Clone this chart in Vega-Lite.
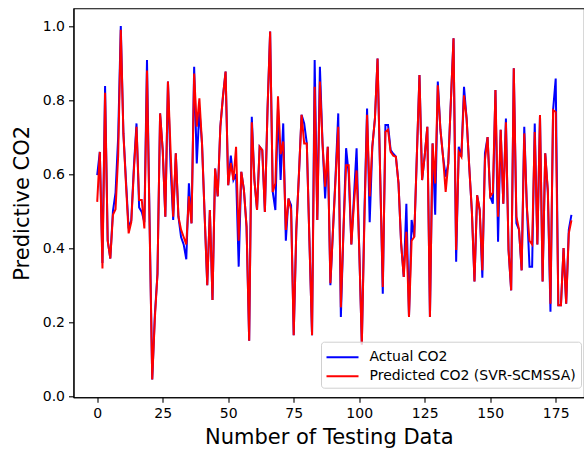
{
  "$schema": "https://vega.github.io/schema/vega-lite/v6.json",
  "autosize": {"type": "none"},
  "padding": {"left": 73.5, "top": 8.3, "right": 0, "bottom": 52.7},
  "width": 510.5,
  "height": 389,
  "background": "white",
  "config": {
    "font": "DejaVu Sans",
    "view": {"stroke": "#000", "strokeWidth": 1.1},
    "axis": {"grid": false, "domainColor": "#000", "domainWidth": 1.1, "tickColor": "#000", "tickWidth": 1.1, "tickSize": 5, "labelPadding": 4, "labelFontSize": 14, "labelColor": "#000", "labelFont": "DejaVu Sans", "titleFont": "DejaVu Sans", "titleFontSize": 21, "titleFontWeight": "normal", "titleColor": "#000"}
  },
  "data": {"values": [
    {"i":0,"a":0.597,"p":0.525},{"i":1,"a":0.66,"p":0.66},{"i":2,"a":0.36,"p":0.345},{"i":3,"a":0.838,"p":0.82},{"i":4,"a":0.42,"p":0.42},
    {"i":5,"a":0.372,"p":0.372},{"i":6,"a":0.5,"p":0.49},{"i":7,"a":0.55,"p":0.505},{"i":8,"a":0.7,"p":0.65},{"i":9,"a":1.0,"p":0.99},
    {"i":10,"a":0.71,"p":0.71},{"i":11,"a":0.58,"p":0.57},{"i":12,"a":0.453,"p":0.44},{"i":13,"a":0.475,"p":0.47},{"i":14,"a":0.62,"p":0.61},
    {"i":15,"a":0.737,"p":0.728},{"i":16,"a":0.51,"p":0.53},{"i":17,"a":0.498,"p":0.53},{"i":18,"a":0.47,"p":0.453},{"i":19,"a":0.908,"p":0.88},
    {"i":20,"a":0.47,"p":0.46},{"i":21,"a":0.045,"p":0.045},{"i":22,"a":0.22,"p":0.21},{"i":23,"a":0.33,"p":0.33},{"i":24,"a":0.764,"p":0.764},
    {"i":25,"a":0.665,"p":0.665},{"i":26,"a":0.485,"p":0.485},{"i":27,"a":0.85,"p":0.85},{"i":28,"a":0.62,"p":0.665},{"i":29,"a":0.476,"p":0.485},
    {"i":30,"a":0.656,"p":0.656},{"i":31,"a":0.485,"p":0.485},{"i":32,"a":0.43,"p":0.45},{"i":33,"a":0.41,"p":0.43},{"i":34,"a":0.37,"p":0.41},
    {"i":35,"a":0.575,"p":0.54},{"i":36,"a":0.467,"p":0.467},{"i":37,"a":0.89,"p":0.872},{"i":38,"a":0.629,"p":0.728},{"i":39,"a":0.773,"p":0.805},
    {"i":40,"a":0.683,"p":0.683},{"i":41,"a":0.49,"p":0.49},{"i":42,"a":0.3,"p":0.3},{"i":43,"a":0.503,"p":0.503},{"i":44,"a":0.26,"p":0.26},
    {"i":45,"a":0.615,"p":0.615},{"i":46,"a":0.54,"p":0.54},{"i":47,"a":0.728,"p":0.728},{"i":48,"a":0.81,"p":0.81},{"i":49,"a":0.877,"p":0.877},
    {"i":50,"a":0.57,"p":0.57},{"i":51,"a":0.65,"p":0.63},{"i":52,"a":0.584,"p":0.584},{"i":53,"a":0.6,"p":0.674},{"i":54,"a":0.35,"p":0.42},
    {"i":55,"a":0.606,"p":0.606},{"i":56,"a":0.557,"p":0.557},{"i":57,"a":0.458,"p":0.458},{"i":58,"a":0.15,"p":0.15},{"i":59,"a":0.755,"p":0.74},
    {"i":60,"a":0.584,"p":0.584},{"i":61,"a":0.503,"p":0.503},{"i":62,"a":0.674,"p":0.674},{"i":63,"a":0.665,"p":0.665},{"i":64,"a":0.498,"p":0.498},
    {"i":65,"a":0.773,"p":0.773},{"i":66,"a":0.985,"p":0.985},{"i":67,"a":0.552,"p":0.552},{"i":68,"a":0.503,"p":0.575},{"i":69,"a":0.78,"p":0.81},
    {"i":70,"a":0.584,"p":0.654},{"i":71,"a":0.737,"p":0.688},{"i":72,"a":0.42,"p":0.449},{"i":73,"a":0.534,"p":0.534},{"i":74,"a":0.516,"p":0.503},
    {"i":75,"a":0.165,"p":0.165},{"i":76,"a":0.45,"p":0.45},{"i":77,"a":0.6,"p":0.6},{"i":78,"a":0.76,"p":0.76},{"i":79,"a":0.737,"p":0.683},
    {"i":80,"a":0.683,"p":0.683},{"i":81,"a":0.42,"p":0.42},{"i":82,"a":0.165,"p":0.165},{"i":83,"a":0.908,"p":0.836},{"i":84,"a":0.476,"p":0.476},
    {"i":85,"a":0.89,"p":0.85},{"i":86,"a":0.683,"p":0.683},{"i":87,"a":0.534,"p":0.566},{"i":88,"a":0.674,"p":0.674},{"i":89,"a":0.3,"p":0.305},
    {"i":90,"a":0.45,"p":0.45},{"i":91,"a":0.6,"p":0.59},{"i":92,"a":0.764,"p":0.728},{"i":93,"a":0.214,"p":0.24},{"i":94,"a":0.45,"p":0.45},
    {"i":95,"a":0.67,"p":0.624},{"i":96,"a":0.6,"p":0.624},{"i":97,"a":0.41,"p":0.41},{"i":98,"a":0.54,"p":0.52},{"i":99,"a":0.67,"p":0.61},
    {"i":100,"a":0.4,"p":0.4},{"i":101,"a":0.14,"p":0.14},{"i":102,"a":0.5,"p":0.48},{"i":103,"a":0.777,"p":0.76},{"i":104,"a":0.47,"p":0.54},
    {"i":105,"a":0.674,"p":0.674},{"i":106,"a":0.75,"p":0.75},{"i":107,"a":0.912,"p":0.912},{"i":108,"a":0.6,"p":0.6},{"i":109,"a":0.277,"p":0.295},
    {"i":110,"a":0.733,"p":0.714},{"i":111,"a":0.733,"p":0.72},{"i":112,"a":0.665,"p":0.66},{"i":113,"a":0.655,"p":0.65},{"i":114,"a":0.647,"p":0.647},
    {"i":115,"a":0.575,"p":0.575},{"i":116,"a":0.413,"p":0.413},{"i":117,"a":0.322,"p":0.322},{"i":118,"a":0.52,"p":0.444},{"i":119,"a":0.214,"p":0.214},
    {"i":120,"a":0.476,"p":0.42},{"i":121,"a":0.43,"p":0.43},{"i":122,"a":0.65,"p":0.65},{"i":123,"a":0.868,"p":0.868},{"i":124,"a":0.584,"p":0.584},
    {"i":125,"a":0.65,"p":0.65},{"i":126,"a":0.728,"p":0.728},{"i":127,"a":0.214,"p":0.214},{"i":128,"a":0.683,"p":0.683},{"i":129,"a":0.49,"p":0.575},
    {"i":130,"a":0.85,"p":0.84},{"i":131,"a":0.72,"p":0.72},{"i":132,"a":0.647,"p":0.647},{"i":133,"a":0.593,"p":0.552},{"i":134,"a":0.629,"p":0.629},
    {"i":135,"a":0.8,"p":0.8},{"i":136,"a":0.967,"p":0.967},{"i":137,"a":0.363,"p":0.395},{"i":138,"a":0.674,"p":0.66},{"i":139,"a":0.647,"p":0.647},
    {"i":140,"a":0.836,"p":0.813},{"i":141,"a":0.75,"p":0.75},{"i":142,"a":0.62,"p":0.62},{"i":143,"a":0.5,"p":0.5},{"i":144,"a":0.31,"p":0.31},
    {"i":145,"a":0.543,"p":0.543},{"i":146,"a":0.503,"p":0.503},{"i":147,"a":0.32,"p":0.34},{"i":148,"a":0.656,"p":0.638},{"i":149,"a":0.7,"p":0.7},
    {"i":150,"a":0.54,"p":0.54},{"i":151,"a":0.52,"p":0.55},{"i":152,"a":0.827,"p":0.827},{"i":153,"a":0.417,"p":0.485},{"i":154,"a":0.72,"p":0.72},
    {"i":155,"a":0.52,"p":0.52},{"i":156,"a":0.75,"p":0.74},{"i":157,"a":0.395,"p":0.395},{"i":158,"a":0.286,"p":0.286},{"i":159,"a":0.886,"p":0.886},
    {"i":160,"a":0.467,"p":0.485},{"i":161,"a":0.45,"p":0.45},{"i":162,"a":0.34,"p":0.34},{"i":163,"a":0.728,"p":0.71},{"i":164,"a":0.51,"p":0.51},
    {"i":165,"a":0.35,"p":0.42},{"i":166,"a":0.35,"p":0.41},{"i":167,"a":0.737,"p":0.714},{"i":168,"a":0.41,"p":0.41},{"i":169,"a":0.76,"p":0.76},
    {"i":170,"a":0.31,"p":0.31},{"i":171,"a":0.656,"p":0.656},{"i":172,"a":0.55,"p":0.557},{"i":173,"a":0.228,"p":0.25},{"i":174,"a":0.773,"p":0.773},
    {"i":175,"a":0.858,"p":0.768},{"i":176,"a":0.246,"p":0.246},{"i":177,"a":0.246,"p":0.246},{"i":178,"a":0.4,"p":0.4},{"i":179,"a":0.25,"p":0.25},
    {"i":180,"a":0.45,"p":0.44},{"i":181,"a":0.49,"p":0.475}
  ]},
  "encoding": {
    "x": {"field": "i", "type": "quantitative", "scale": {"domain": [-9.05, 185.8], "nice": false, "zero": false}, "axis": {"values": [0, 25, 50, 75, 100, 125, 150, 175], "title": "Number of Testing Data", "titlePadding": 6}}
  },
  "layer": [
    {
      "mark": {"type": "line", "strokeWidth": 2, "clip": true},
      "encoding": {
        "y": {"field": "a", "type": "quantitative", "scale": {"domain": [-0.003, 1.048], "nice": false, "zero": false}, "axis": {"values": [0, 0.2, 0.4, 0.6, 0.8, 1.0], "format": ".1f", "title": "Predictive CO2", "titlePadding": 10}},
        "color": {"datum": "Actual CO2", "type": "nominal", "scale": {"domain": ["Actual CO2", "Predicted CO2 (SVR-SCMSSA)"], "range": ["#0000ff", "#ff0000"]},
          "legend": {"orient": "none", "legendX": 247.5, "legendY": 333.4, "title": null, "symbolType": "M-1,0L2.2,0", "symbolSize": 400, "symbolStrokeWidth": 2, "labelFontSize": 14, "labelFont": "DejaVu Sans", "labelColor": "#000", "labelLimit": 400, "labelOffset": 22, "rowPadding": 1, "padding": 4.5, "strokeColor": "#d0d0d0", "fillColor": "rgba(255,255,255,0.8)", "cornerRadius": 3}}
      }
    },
    {
      "mark": {"type": "line", "strokeWidth": 2, "clip": true},
      "encoding": {
        "y": {"field": "p", "type": "quantitative"},
        "color": {"datum": "Predicted CO2 (SVR-SCMSSA)", "type": "nominal"}
      }
    }
  ]
}
